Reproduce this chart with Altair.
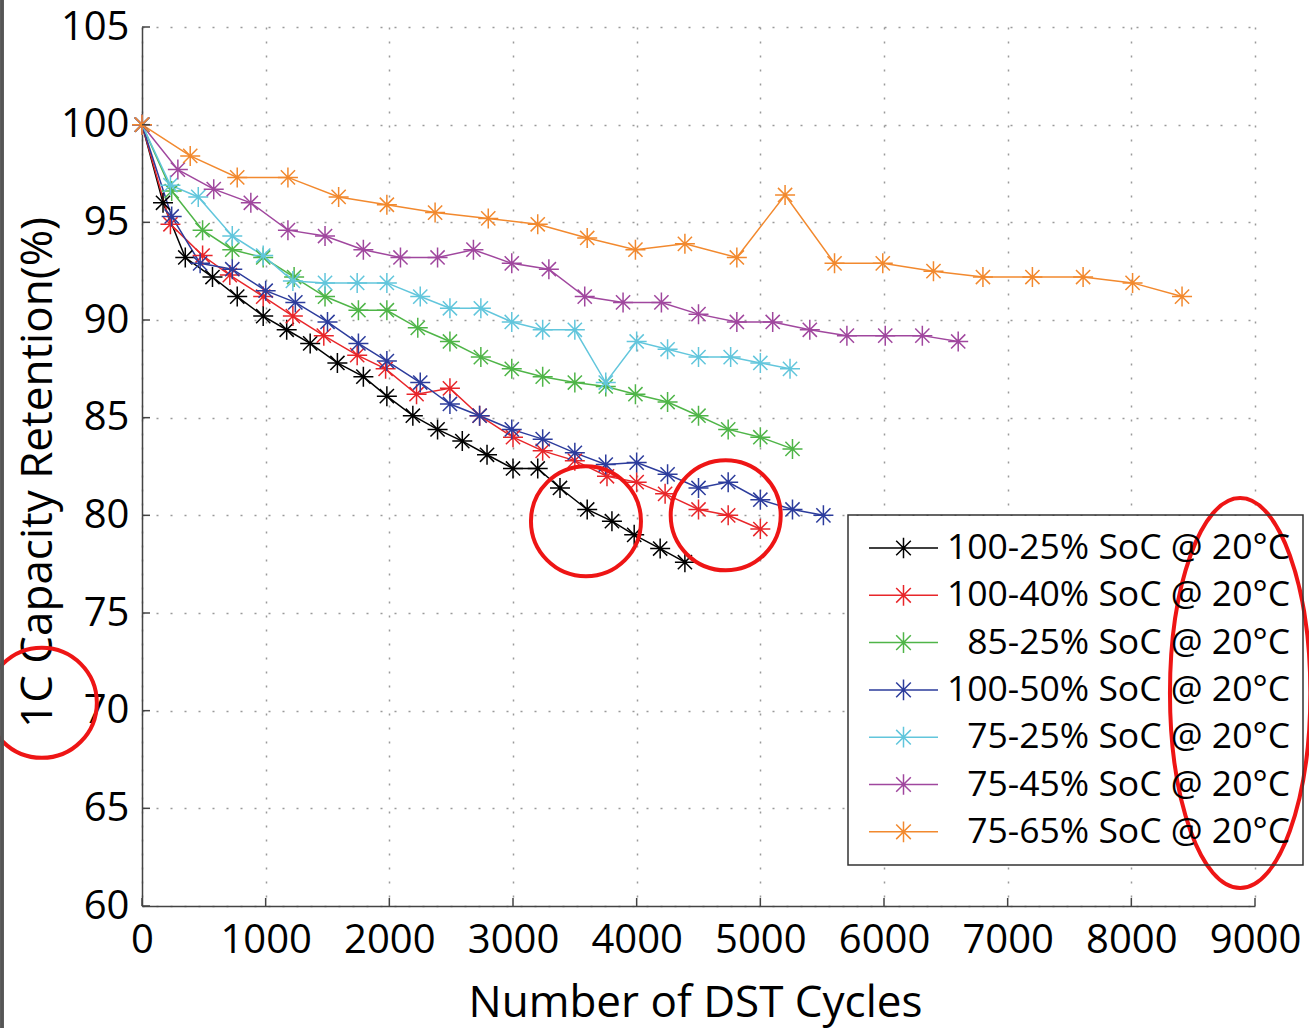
import altair as alt
import pandas as pd

# ---------------- data ----------------
series_names = [
    "100-25% SoC @ 20°C",
    "100-40% SoC @ 20°C",
    "85-25% SoC @ 20°C",
    "100-50% SoC @ 20°C",
    "75-25% SoC @ 20°C",
    "75-45% SoC @ 20°C",
    "75-65% SoC @ 20°C",
]
series_colors = ["#000000", "#e8262a", "#4fb548", "#2c3c9c", "#62c6dc", "#a0479e", "#f2892e"]

s1_x = [0, 170, 350, 570, 770, 980, 1170, 1360, 1580, 1790, 1980, 2190, 2390, 2590, 2790, 3000, 3200, 3380, 3600, 3800, 3980, 4190, 4390]
s1_y = [100, 96.0, 93.2, 92.2, 91.2, 90.2, 89.5, 88.8, 87.8, 87.1, 86.1, 85.1, 84.4, 83.8, 83.1, 82.4, 82.4, 81.4, 80.3, 79.7, 79.0, 78.3, 77.6]

s2_x = [0, 230, 490, 710, 980, 1220, 1470, 1740, 1970, 2220, 2490, 2730, 3000, 3240, 3500, 3760, 4000, 4230, 4500, 4740, 5000]
s2_y = [100, 94.9, 93.3, 92.3, 91.2, 90.2, 89.2, 88.2, 87.5, 86.2, 86.5, 85.1, 84.0, 83.3, 82.8, 82.0, 81.7, 81.1, 80.3, 80.0, 79.3]

s3_x = [0, 240, 490, 730, 980, 1230, 1480, 1750, 1980, 2230, 2490, 2740, 2990, 3240, 3500, 3750, 3990, 4250, 4500, 4740, 5000, 5260]
s3_y = [100, 96.6, 94.6, 93.6, 93.2, 92.2, 91.2, 90.5, 90.5, 89.6, 88.9, 88.1, 87.5, 87.1, 86.8, 86.6, 86.2, 85.8, 85.1, 84.4, 84.0, 83.4]

s4_x = [0, 240, 470, 730, 1000, 1240, 1500, 1750, 1980, 2250, 2490, 2730, 2990, 3240, 3500, 3750, 4000, 4250, 4500, 4740, 5000, 5260, 5510]
s4_y = [100, 95.3, 92.9, 92.6, 91.5, 90.9, 89.9, 88.8, 87.9, 86.8, 85.7, 85.1, 84.4, 83.9, 83.2, 82.6, 82.7, 82.1, 81.4, 81.7, 80.8, 80.3, 80.0]

s5_x = [0, 230, 455, 730, 980, 1220, 1480, 1740, 1980, 2250, 2490, 2740, 2990, 3240, 3500, 3750, 4000, 4250, 4500, 4760, 5000, 5240]
s5_y = [100, 96.9, 96.3, 94.3, 93.3, 92.0, 91.9, 91.9, 91.9, 91.2, 90.6, 90.6, 89.9, 89.5, 89.5, 86.8, 88.9, 88.5, 88.1, 88.1, 87.8, 87.5]

s6_x = [0, 290, 580, 880, 1180, 1480, 1790, 2090, 2390, 2680, 2990, 3290, 3580, 3890, 4200, 4500, 4810, 5100, 5400, 5700, 6010, 6310, 6600]
s6_y = [100, 97.7, 96.7, 96.0, 94.6, 94.3, 93.6, 93.2, 93.2, 93.6, 92.9, 92.6, 91.2, 90.9, 90.9, 90.3, 89.9, 89.9, 89.5, 89.2, 89.2, 89.2, 88.9]

s7_x = [0, 390, 770, 1180, 1590, 1980, 2370, 2800, 3200, 3600, 3990, 4390, 4810, 5200, 5600, 5990, 6400, 6800, 7200, 7610, 8010, 8410]
s7_y = [100, 98.4, 97.3, 97.3, 96.3, 95.9, 95.5, 95.2, 94.9, 94.2, 93.6, 93.9, 93.2, 96.4, 92.9, 92.9, 92.5, 92.2, 92.2, 92.2, 91.9, 91.2]

x_ticks = [0, 1000, 2000, 3000, 4000, 5000, 6000, 7000, 8000, 9000]
y_ticks = [60, 65, 70, 75, 80, 85, 90, 95, 100, 105]

# red hand-drawn annotation marks (centres in data coordinates)
circle_x = [3590, 4720, -810]
circle_y = [79.7, 80.0, 70.4]
ellipse_x = [8880]
ellipse_y = [70.9]

# ---------------- build table ----------------
all_x = [s1_x, s2_x, s3_x, s4_x, s5_x, s6_x, s7_x]
all_y = [s1_y, s2_y, s3_y, s4_y, s5_y, s6_y, s7_y]
rows = []
for name, xs, ys in zip(series_names, all_x, all_y):
    for xv, yv in zip(xs, ys):
        rows.append({"x": xv, "y": yv, "series": name})
df = pd.DataFrame(rows)

FONT = "Open Sans"
STAR = "M-1,0L1,0M0,-1L0,1M-0.71,-0.71L0.71,0.71M-0.71,0.71L0.71,-0.71"
LEG_SYMBOL = ("M-1,0L1,0M0,-0.3L0,0.3M-0.212,-0.212L0.212,0.212"
              "M-0.212,0.212L0.212,-0.212")
ELLIPSE = "M-0.36,0A0.36,1 0 1,1 0.36,0A0.36,1 0 1,1 -0.36,0Z"
RED = "#ee1515"

W, H = 1113, 879

xscale = alt.Scale(domain=[0, 9000], nice=False, zero=False)
yscale = alt.Scale(domain=[60, 105], nice=False, zero=False)

xaxis = alt.Axis(
    values=x_ticks, format="d", title="Number of DST Cycles",
    titleFont=FONT, titleFontSize=44, titleFontWeight="normal", titleColor="black",
    titleX=553, titleY=97, titleBaseline="middle", titleAlign="center",
    labelFont=FONT, labelFontSize=40, labelColor="black", labelPadding=14,
    labelFlush=False, labelOverlap=False, labelBaseline="top",
    ticks=False, domainColor="#444444", domainWidth=1.5,
    grid=True, gridColor="#9a9a9a", gridDash=[2, 12], gridWidth=1.5,
)
yaxis = alt.Axis(
    values=y_ticks, title="1C Capacity Retention(%)",
    titleFont=FONT, titleFontSize=44, titleFontWeight="normal", titleColor="black",
    titleAngle=270, titleX=-104, titleY=445, titleBaseline="middle", titleAlign="center",
    labelFont=FONT, labelFontSize=40, labelColor="black", labelPadding=13,
    labelOverlap=False, labelFlush=False,
    ticks=False, domainColor="#444444", domainWidth=1.5,
    grid=True, gridColor="#9a9a9a", gridDash=[2, 12], gridWidth=1.5,
)

X = alt.X("x:Q", scale=xscale, axis=xaxis)
Y = alt.Y("y:Q", scale=yscale, axis=yaxis)

# white backing box for the legend (hides grid behind it)
legend_bg = alt.Chart(pd.DataFrame({"x": [0]})).mark_rect(color="white").encode(
    x=alt.value(707), x2=alt.value(1160), y=alt.value(489), y2=alt.value(834)
)

lines = alt.Chart(df).mark_line(
    strokeWidth=1.5,
    point=alt.OverlayMarkDef(shape=STAR, size=400, filled=False, strokeWidth=1.5, opacity=1),
).encode(
    x=X, y=Y,
    color=alt.Color(
        "series:N",
        scale=alt.Scale(domain=series_names, range=series_colors),
        legend=alt.Legend(
            orient="none", legendX=706, legendY=488, title=None,
            labelFont=FONT, labelFontSize=35.5, labelColor="black",
            labelAlign="right", labelOffset=351,
            symbolType=LEG_SYMBOL, symbolSize=4761, symbolStrokeWidth=1.5,
            symbolOffset=7, padding=13, rowPadding=7.3,
            clipHeight=40, strokeColor="#333333",
            labelLimit=600,
        ),
        sort=None,
    ),
)

ytick_df = pd.DataFrame({"y": y_ticks})
yticks = alt.Chart(ytick_df).mark_rule(color="#444444", strokeWidth=1.5).encode(
    y=Y, x=alt.value(0), x2=alt.value(8)
)
xtick_df = pd.DataFrame({"x": x_ticks})
xticks = alt.Chart(xtick_df).mark_rule(color="#444444", strokeWidth=1.5).encode(
    x=X, y=alt.value(H), y2=alt.value(H - 8)
)

circ_df = pd.DataFrame({"x": circle_x, "y": circle_y})
circles = alt.Chart(circ_df).mark_point(
    shape="circle", size=12100, filled=False, stroke=RED, strokeWidth=4, opacity=1
).encode(x=X, y=Y)

ell_df = pd.DataFrame({"x": ellipse_x, "y": ellipse_y})
ellipse = alt.Chart(ell_df).mark_point(
    shape=ELLIPSE, size=152100, filled=False, stroke=RED, strokeWidth=4, opacity=1
).encode(x=X, y=Y)

frame = alt.Chart(ytick_df).mark_rule(color="#555555", strokeWidth=2.5).encode(
    x=alt.value(-140), y=alt.value(-27), y2=alt.value(1001)
)

chart = alt.layer(legend_bg, lines, yticks, xticks, circles, ellipse, frame).properties(
    width=W, height=H,
    autosize=alt.AutoSizeParams(type="none"),
    padding={"left": 142, "top": 27, "right": 54, "bottom": 122},
    background="white",
).configure_view(stroke=None).configure_legend(strokeWidth=1.5)

chart.save("out.html", embed_options={"renderer": "svg", "actions": False})
